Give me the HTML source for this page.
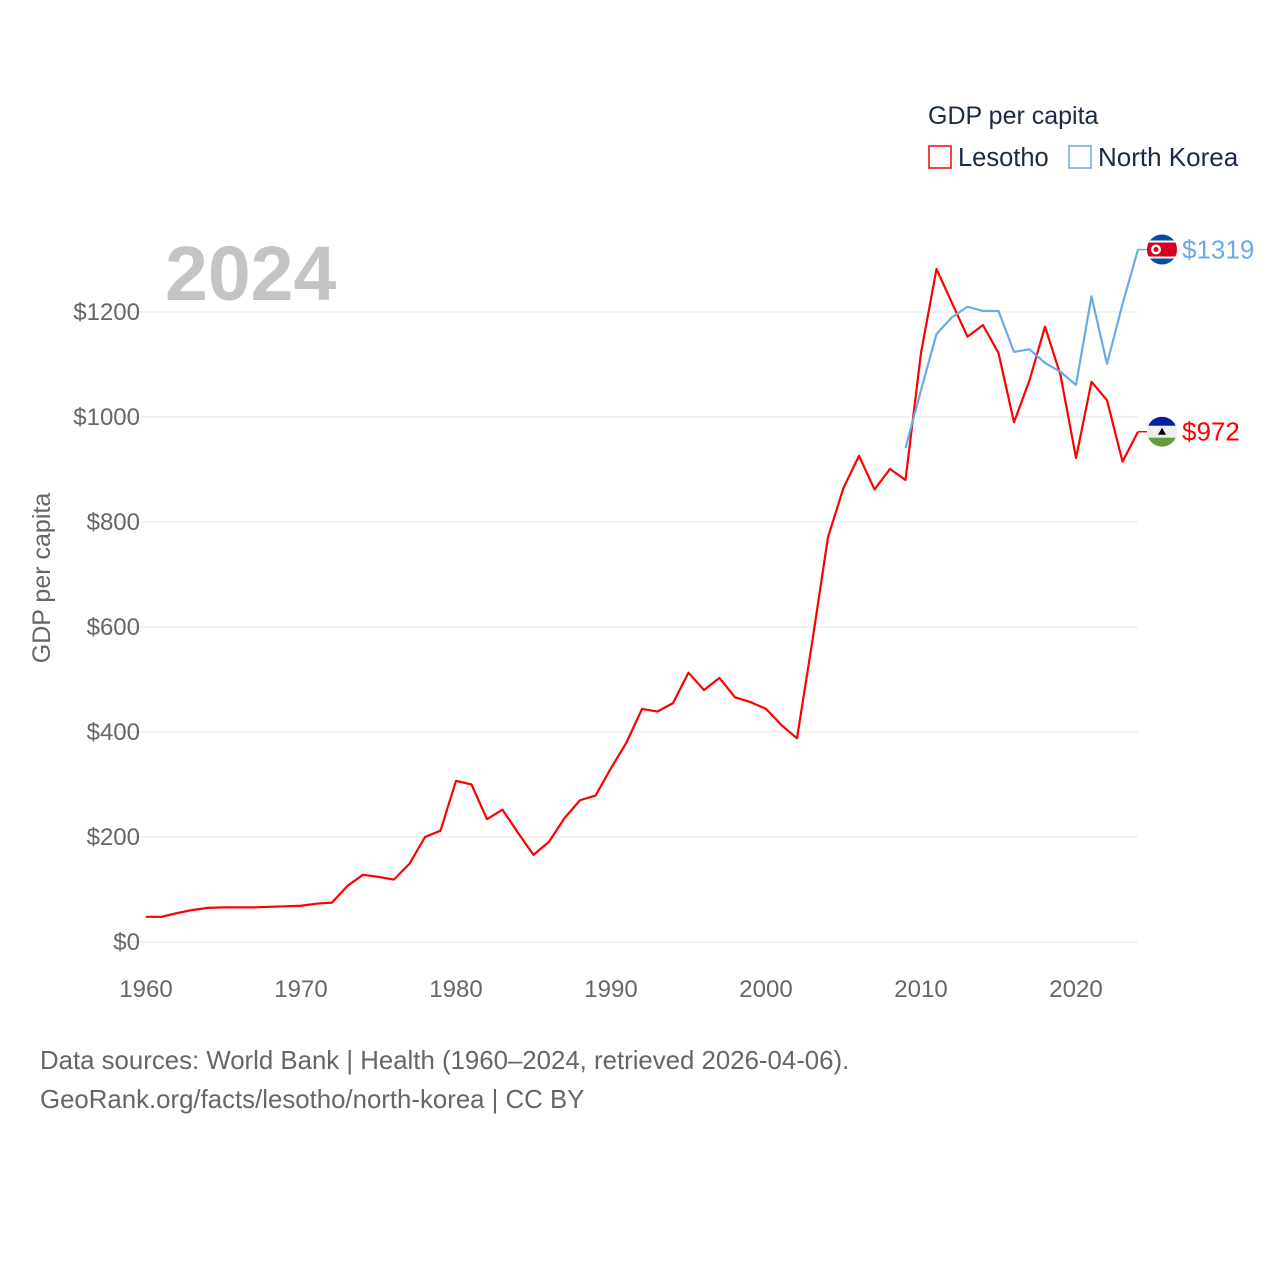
<!DOCTYPE html>
<html><head><meta charset="utf-8"><style>
body{margin:0;background:#fff;width:1280px;height:1280px;overflow:hidden;font-family:"Liberation Sans",sans-serif}
svg text{font-family:"Liberation Sans",sans-serif}
</style></head><body>
<svg id="chart" width="1280" height="1280" xmlns="http://www.w3.org/2000/svg">
<text x="928" y="124" font-size="25" fill="#1a2a44">GDP per capita</text>
<g><rect x="929" y="146" width="22" height="22" fill="none" stroke="#ff0000" stroke-width="1.5"/><text x="958" y="166" font-size="25.5" fill="#1a2a44">Lesotho</text></g>
<g><rect x="1069" y="146" width="22" height="22" fill="none" stroke="#6aaae8" stroke-width="1.5"/><text x="1098" y="166" font-size="26" fill="#1a2a44">North Korea</text></g>
<text x="165" y="300" font-size="77" font-weight="bold" fill="#c4c4c4">2024</text>
<g id="grid"></g><g id="lines"></g><g id="labels"></g>
<text transform="translate(50,578) rotate(-90)" text-anchor="middle" font-size="25" fill="#666">GDP per capita</text>
<text x="40" y="1069" font-size="25.8" fill="#666">Data sources: World Bank | Health (1960–2024, retrieved 2026-04-06).</text>
<text x="40" y="1108" font-size="25.8" fill="#666">GeoRank.org/facts/lesotho/north-korea | CC BY</text>
</svg>
<script>
const years=[];for(let y=1960;y<=2024;y++)years.push(y);
const lesotho=[48,48,55,61,65,66,66,66,67,68,69,73,75,107,128,124,119,149,200,212,307,300,234,252,208,166,191,236,270,279,331,380,444,439,455,513,480,503,466,457,444,413,388,575,771,865,926,862,901,880,1122,1282,1217,1153,1175,1122,990,1070,1172,1080,922,1067,1032,915,972];
const nkYears=[2009,2010,2011,2012,2013,2014,2015,2016,2017,2018,2019,2020,2021,2022,2023,2024];
const northKorea=[941,1051,1158,1190,1210,1202,1202,1124,1129,1103,1086,1061,1230,1101,1215,1319];
const yTicks=[0,200,400,600,800,1000,1200];
const xTicks=[1960,1970,1980,1990,2000,2010,2020];
const X=y=>146+(y-1960)*15.5, Y=v=>942-v*0.525;
const NS='http://www.w3.org/2000/svg';
function mk(t,a,p){const e=document.createElementNS(NS,t);for(const k in a)e.setAttribute(k,a[k]);p.appendChild(e);return e;}
const grid=document.getElementById('grid');
yTicks.forEach(v=>{
 const l=mk('line',{x1:118,x2:1138,y1:Y(v),y2:Y(v),stroke:'#e6e6e6','stroke-width':1},grid);
 
 
 const t=mk('text',{x:140,y:Y(v)+8,'text-anchor':'end','font-size':24,fill:'#666'},grid);t.textContent='$'+v;
 
 
});
xTicks.forEach(y=>{
 const t=mk('text',{x:X(y),y:997,'text-anchor':'middle','font-size':24,fill:'#666'},grid);t.textContent=y;
 
 
});
const lines=document.getElementById('lines');
const p1=mk('polyline',{points:years.map((y,i)=>X(y)+','+Y(lesotho[i])).join(' '),fill:'none',stroke:'#ff0000','stroke-width':2.2,'stroke-linejoin':'round'},lines);


const p2=mk('polyline',{points:nkYears.map((y,i)=>X(y)+','+Y(northKorea[i])).join(' '),fill:'none',stroke:'#6aaae8','stroke-width':2.2,'stroke-linejoin':'round'},lines);


const lab=document.getElementById('labels');
function endLabel(v,color,name,flag){
 const y=Y(v);
 mk('line',{x1:1138,x2:1147,y1:y,y2:y,stroke:color,'stroke-width':1.5},lab);
 const g=mk('g',{},lab);
 
 
 flag(g,1162,y);
 const t=mk('text',{x:1182,y:y+9,'font-size':26,fill:color},lab);t.textContent='$'+v;
 
 
}
endLabel(northKorea[northKorea.length-1],'#6aaae8','north-korea',(g,cx,cy)=>{
 const id='cnk';mk('clipPath',{id},g);mk('circle',{cx,cy,r:15},g.lastChild);
 const c=mk('g',{'clip-path':'url(#'+id+')'},g);
 mk('rect',{x:cx-15,y:cy-15,width:30,height:30,fill:'#024fa2'},c);
 mk('rect',{x:cx-15,y:cy-9,width:30,height:18,fill:'#fff'},c);
 mk('rect',{x:cx-15,y:cy-7,width:30,height:14,fill:'#d80021'},c);
 mk('circle',{cx:cx-6,cy,r:5,fill:'#fff'},c);
 mk('circle',{cx:cx-6,cy,r:2.5,fill:'#d80021'},c);
});
endLabel(lesotho[lesotho.length-1],'#ff0000','lesotho',(g,cx,cy)=>{
 const id='cls';mk('clipPath',{id},g);mk('circle',{cx,cy,r:15},g.lastChild);
 const c=mk('g',{'clip-path':'url(#'+id+')'},g);
 mk('rect',{x:cx-15,y:cy-15,width:30,height:30,fill:'#eee'},c);
 mk('rect',{x:cx-15,y:cy-15,width:30,height:9,fill:'#00209f'},c);
 mk('rect',{x:cx-15,y:cy+6,width:30,height:9,fill:'#6a9a3f'},c);
 mk('path',{d:`M${cx-4},${cy+3} L${cx+4},${cy+3} L${cx},${cy-4} Z`,fill:'#000'},c);
});
</script>
</body></html>
